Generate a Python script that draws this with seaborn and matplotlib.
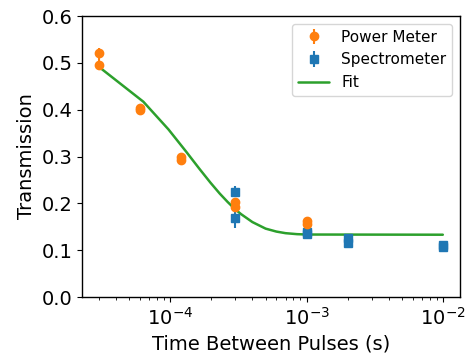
import matplotlib
matplotlib.use("Agg")
import matplotlib.pyplot as plt
import seaborn as sns
import pandas as pd

# Power meter measurements (time between pulses in s, transmission, error)
pm_time = [3e-5, 3e-5, 6e-5, 6e-5, 1.2e-4, 1.2e-4, 3e-4, 3e-4, 1e-3, 1e-3]
pm_trans = [0.520, 0.496, 0.404, 0.399, 0.298, 0.292, 0.202, 0.193, 0.163, 0.155]
pm_err = [0.012, 0.012, 0.006, 0.006, 0.006, 0.006, 0.008, 0.008, 0.008, 0.008]

# Spectrometer measurements
sp_time = [3e-4, 3e-4, 1e-3, 1e-3, 2e-3, 2e-3, 1e-2, 1e-2]
sp_trans = [0.225, 0.168, 0.138, 0.135, 0.127, 0.116, 0.112, 0.106]
sp_err = [0.012, 0.020, 0.005, 0.005, 0.008, 0.008, 0.006, 0.006]

# Fit curve
fit_time = [3.0e-5, 6.33e-5, 9.67e-5, 1.3e-4, 1.63e-4, 1.97e-4, 2.3e-4, 2.63e-4,
            2.97e-4, 3.3e-4, 4.0e-4, 5.0e-4, 6.0e-4, 7.0e-4, 8.5e-4, 1.0e-3, 1.0e-2]
fit_trans = [0.491, 0.417, 0.358, 0.311, 0.274, 0.244, 0.221, 0.203,
             0.188, 0.177, 0.160, 0.146, 0.1397, 0.1363, 0.1342, 0.1334, 0.133]

sns.set_style("ticks", {"axes.edgecolor": "black", "xtick.color": "black",
                        "ytick.color": "black", "text.color": "black",
                        "axes.labelcolor": "black"})
plt.rcParams['font.family'] = ['DejaVu Sans']

fig, ax = plt.subplots(figsize=(4.67, 3.59), dpi=100)
fig.subplots_adjust(left=0.1756, right=0.985, top=0.9554, bottom=0.1727)

fit_df = pd.DataFrame({"time": fit_time, "trans": fit_trans})
sns.lineplot(data=fit_df, x="time", y="trans", color="#2ca02c", linewidth=1.8,
             ax=ax, zorder=1, label="Fit")

sp = ax.errorbar(sp_time, sp_trans, yerr=sp_err, fmt="s", color="#1f77b4",
                 markersize=6, elinewidth=1.5, zorder=2, label="Spectrometer")
pm = ax.errorbar(pm_time, pm_trans, yerr=pm_err, fmt="o", color="#ff7f0e",
                 markersize=6, elinewidth=1.5, zorder=3, label="Power Meter")

ax.set_xscale("log")
ax.set_ylim(0, 0.6)
ax.set_yticks([0.0, 0.1, 0.2, 0.3, 0.4, 0.5, 0.6])
ax.set_xlabel("Time Between Pulses (s)", fontsize=14)
ax.set_ylabel("Transmission", fontsize=14)
ax.tick_params(labelsize=14)
for s in ax.spines.values():
    s.set_visible(True)
    s.set_linewidth(1.0)

handles, labels = ax.get_legend_handles_labels()
order = [labels.index("Power Meter"), labels.index("Spectrometer"), labels.index("Fit")]
ax.legend([handles[i] for i in order], [labels[i] for i in order],
          loc="upper right", fontsize=11)

fig.savefig("out.png", dpi=100)
